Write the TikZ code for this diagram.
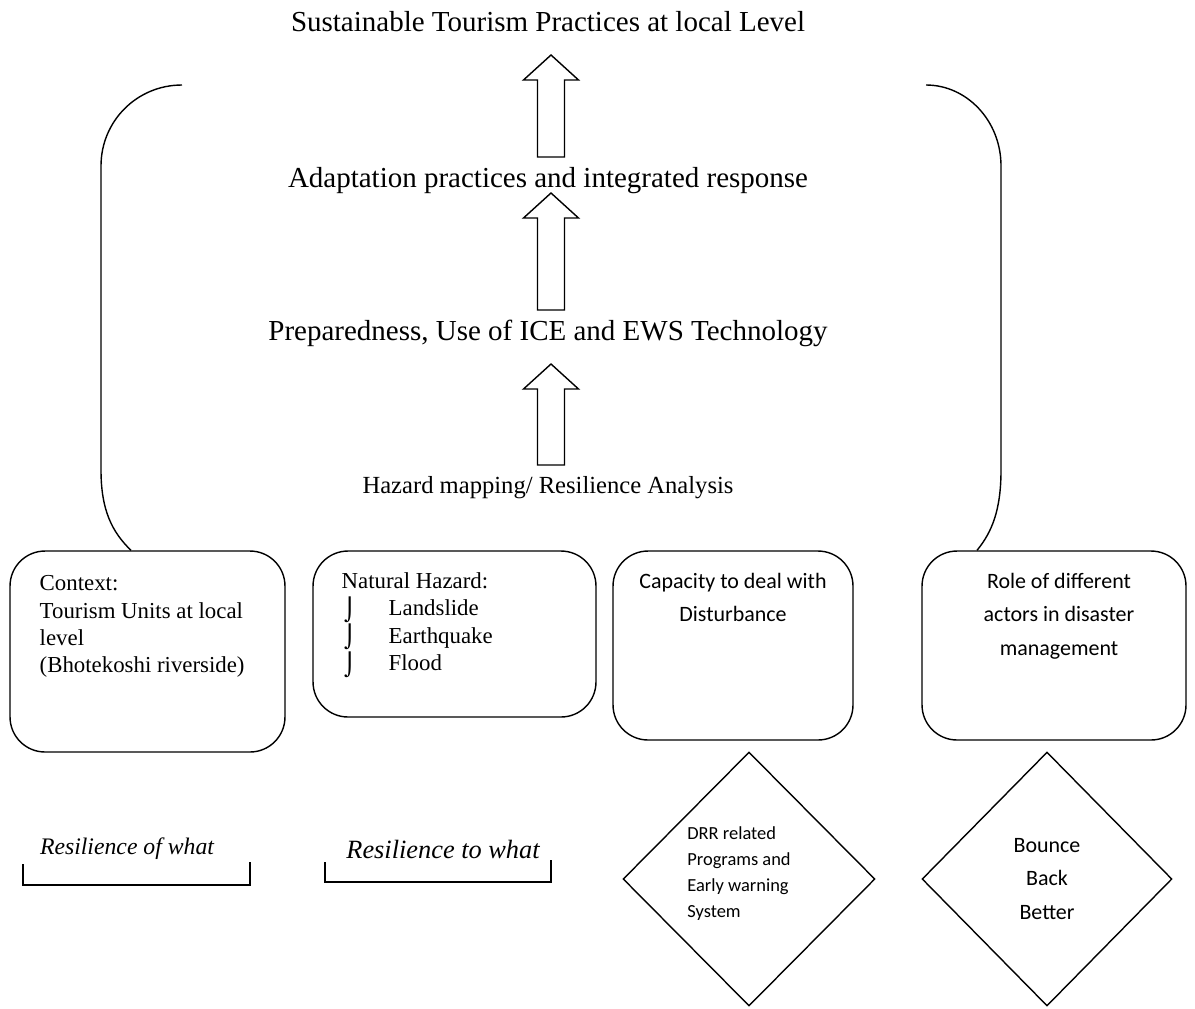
\documentclass[tikz,border=0pt]{standalone}
\usepackage{fontspec}
\setmainfont{Liberation Serif}
\newfontfamily\calibri{Carlito}
\newfontfamily\symbfont{DejaVu Sans}
\usetikzlibrary{shapes.geometric}

% hollow up arrow: centre x, tip y, bottom y
\newcommand{\hollowarrow}[3]{%
  \draw[line join=miter] (#1,#2) -- (#1+27.5,#2+25) -- (#1+13.5,#2+25) -- (#1+13.5,#3)
    -- (#1-13.5,#3) -- (#1-13.5,#2+25) -- (#1-27.5,#2+25) -- cycle;}
\newcommand{\hazbullet}{\hspace*{0.05cm}\makebox[0.89cm][l]{\raisebox{-1pt}{\smash{\symbfont\fontsize{12.5}{12.5}\selectfont ⌡}}}}

\begin{document}
\begin{tikzpicture}[x=0.02cm, y=-0.02cm, thick]
            % Styles
            \tikzstyle{heading} = [font=\fontsize{16.5}{19}\selectfont, inner sep=0pt]
            \tikzstyle{unit} = [rectangle, rounded corners=0.7cm, draw=black, inner sep=0pt]
            \tikzstyle{factor} = [diamond, draw=black, inner sep=0pt]
            \tikzstyle{serifbody} = [font=\fontsize{13}{15.5}\selectfont, align=left, inner sep=0pt, anchor=north west]
            \tikzstyle{sansbody} = [font=\calibri\fontsize{12.5}{19}\selectfont, align=center, inner sep=0pt]

            \useasboundingbox (0,0) rectangle (1195,1008);

            % Nodes: levels
            \node[heading] (goal) at (548,22) {Sustainable Tourism Practices at local Level};
            \node[heading] (adapt) at (548,181) {Adaptation practices and integrated response};
            \node[heading] (prep) at (548,333) {Preparedness, Use of ICE and EWS Technology};
            \node[heading, font=\fontsize{14}{17}\selectfont] (hazmap) at (548,488) {Hazard mapping/ Resilience Analysis};

            % Arrows between levels
            \hollowarrow{551}{55}{157}
            \hollowarrow{551}{193}{310}
            \hollowarrow{551}{364}{465}

            % Nodes: boxes
            \node[unit, minimum width=5.5cm, minimum height=4.02cm] (context) at (147.5,651.5) {};
            \node[unit, minimum width=5.66cm, minimum height=3.32cm] (hazard) at (454.5,634) {};
            \node[unit, minimum width=4.8cm, minimum height=3.78cm] (capacity) at (733,645.5) {};
            \node[unit, minimum width=5.28cm, minimum height=3.78cm] (actors) at (1054,645.5) {};

            % Box texts
            \node[serifbody] (contexttext) at (39,575) {Context:\\Tourism Units at local\\level\\(Bhotekoshi riverside)};
            \node[serifbody] (hazardtext) at (341,572) {Natural Hazard:\\\hazbullet Landslide\\\hazbullet Earthquake\\\hazbullet Flood};
            \node[sansbody, anchor=north] (capacitytext) at (capacity.north) [yshift=-0.44cm] {Capacity to deal with\\Disturbance};
            \node[sansbody, anchor=north] (actorstext) at (actors.north) [xshift=0.1cm, yshift=-0.44cm] {Role of different\\actors in disaster\\management};

            % Nodes: diamonds
            \node[factor, minimum width=5.04cm, minimum height=5.08cm] (drr) at (749,879) {};
            \node[font=\calibri\fontsize{10.5}{14.8}\selectfont, align=left] (drrtext) at (drr.center) [xshift=-0.2cm, yshift=0.1cm] {DRR related\\Programs and\\Early warning\\System};
            \node[factor, minimum width=5cm, minimum height=5.08cm, font=\calibri\fontsize{12.5}{19}\selectfont, align=center] (bounce) at (1047,879) {Bounce\\Back\\Better};

            % Side curves
            \draw (182,85) .. controls (137,85) and (101,121) .. (101,166) -- (101,470)
                  .. controls (101,510) and (112,532) .. (context.north -| 131,0);
            \draw (926,85) .. controls (967,85) and (1001,121) .. (1001,166) -- (1001,470)
                  .. controls (1001,510) and (992,532) .. (actors.north -| 977,0);

            % Resilience labels
            \node[font=\itshape\fontsize{13.5}{16}\selectfont] (ofwhat) at (127,849) {Resilience of what};
            \node[font=\itshape\fontsize{15}{18}\selectfont] (towhat) at (443,849) {Resilience to what};
            \draw (23,864) -- (23,885) -- (250,885) -- (250,862);
            \draw (325,862) -- (325,882) -- (551,882) -- (551,860);
        \end{tikzpicture}
\end{document}
